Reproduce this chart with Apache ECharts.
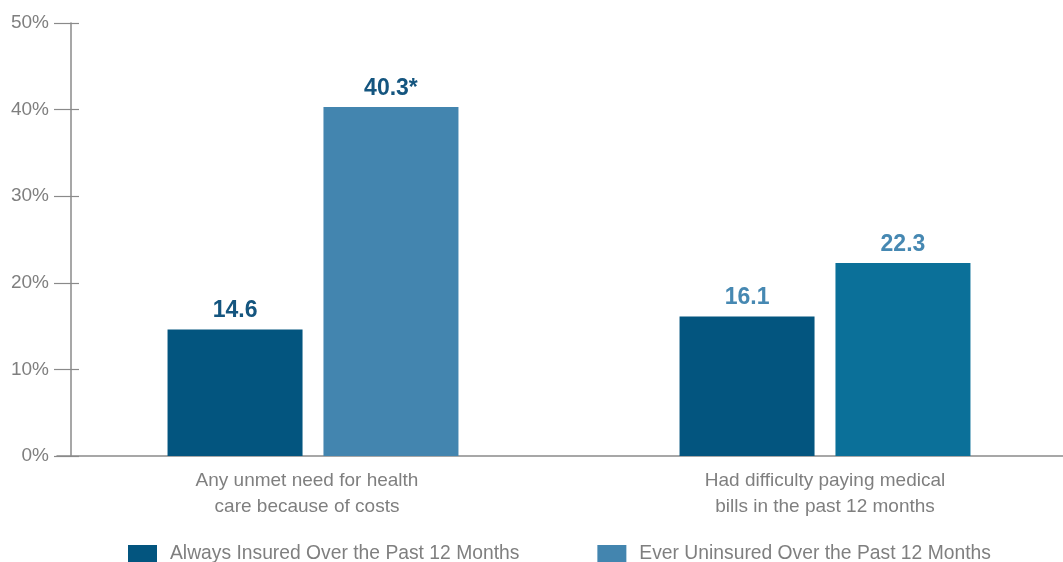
<!DOCTYPE html>
<html>
<head>
<meta charset="utf-8">
<script src="https://cdn.jsdelivr.net/npm/echarts@6/dist/echarts.min.js"></script>
<style>
  html, body { margin: 0; padding: 0; background: #ffffff; overflow: hidden; }
  /* the plot area runs past the right edge of the page */
  #chart { width: 1081px; height: 562px; }
</style>
</head>
<body>
<div id="chart"></div>
<script>
// Categories and values (percent of adults)
const categories = [
  'Any unmet need for health\ncare because of costs',
  'Had difficulty paying medical\nbills in the past 12 months'
];
const seriesNames = [
  'Always Insured Over the Past 12 Months',
  'Ever Uninsured Over the Past 12 Months'
];
const alwaysInsured = [14.6, 16.1];
const everUninsured = [40.3, 22.3];
const significanceMarks = ['*', ''];

// Palette
const DARK = '#03557f';
const MID = '#4385af';
const TEAL = '#0b7099';
const LABEL_DARK = '#14557f';
const LABEL_LIGHT = '#4688b2';
const GRAY_TEXT = '#7f7f7f';
const GRAY_LINE = '#8a8a8a';
const FONT = '"Liberation Sans", Arial, sans-serif';

const labelColors = [LABEL_DARK, LABEL_LIGHT];
const uninsuredColors = [MID, TEAL];
// first category label sits a little left of its bar pair
const categoryLabelPadding = [[0, 12, 0, 0], [0, 0, 0, 0]];

const valueLabel = (color, suffix) => ({
  show: true,
  position: 'top',
  distance: 7,
  color: color,
  fontFamily: FONT,
  fontWeight: 'bold',
  fontSize: 23,
  formatter: p => p.value + suffix
});

const chart = echarts.init(document.getElementById('chart'), null, { renderer: 'canvas' });

const yBase = {
  type: 'value',
  min: 0,
  max: 50,
  interval: 10,
  position: 'left',
  splitLine: { show: false }
};

chart.setOption({
  animation: false,
  backgroundColor: '#ffffff',
  grid: { left: 57, top: 23, right: 0, bottom: 106, containLabel: false },
  legend: {
    left: 128,
    top: 544,
    padding: 0,
    icon: 'rect',
    itemWidth: 29,
    itemHeight: 17,
    itemGap: 78,
    textStyle: { color: GRAY_TEXT, fontFamily: FONT, fontSize: 19.3, padding: [0, 0, 0, 8] },
    data: seriesNames
  },
  xAxis: {
    type: 'category',
    data: categories.map((c, i) => ({
      value: c,
      textStyle: { padding: categoryLabelPadding[i] }
    })),
    axisLine: { show: true, lineStyle: { color: GRAY_LINE, width: 1.5 } },
    axisTick: { show: false },
    axisLabel: {
      color: GRAY_TEXT,
      fontFamily: FONT,
      fontSize: 19,
      lineHeight: 26,
      margin: 12
    }
  },
  yAxis: [
    // main axis: vertical line and percent labels
    Object.assign({}, yBase, {
      offset: -14,
      axisLine: { show: true, lineStyle: { color: GRAY_LINE, width: 1.5 } },
      axisTick: { show: false },
      axisLabel: {
        color: GRAY_TEXT,
        fontFamily: FONT,
        fontSize: 19,
        margin: 22,
        formatter: '{value}%'
      }
    }),
    // tick marks that cross the main axis line
    Object.assign({}, yBase, {
      offset: -22,
      axisLine: { show: false },
      axisTick: { show: true, inside: false, length: 25, lineStyle: { color: GRAY_LINE, width: 1.2 } },
      axisLabel: { show: false }
    })
  ],
  series: [
    {
      name: seriesNames[0],
      type: 'bar',
      yAxisIndex: 0,
      barWidth: 135,
      barGap: '15.5%',
      itemStyle: { color: DARK },
      data: alwaysInsured.map((v, i) => ({
        value: v,
        label: valueLabel(labelColors[i], '')
      }))
    },
    {
      name: seriesNames[1],
      type: 'bar',
      yAxisIndex: 0,
      barWidth: 135,
      barGap: '15.5%',
      itemStyle: { color: MID },
      data: everUninsured.map((v, i) => ({
        value: v,
        itemStyle: { color: uninsuredColors[i] },
        label: valueLabel(labelColors[i], significanceMarks[i])
      }))
    }
  ]
});
</script>
</body>
</html>
